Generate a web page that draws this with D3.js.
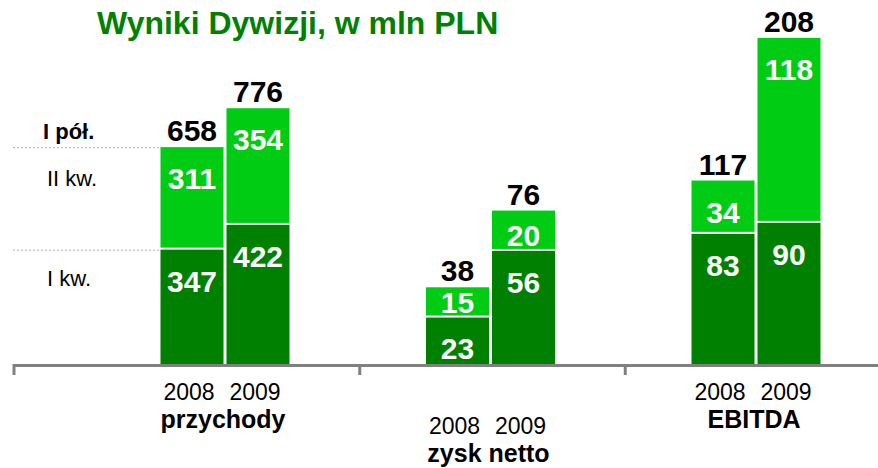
<!DOCTYPE html>
<html>
<head>
  <meta charset="utf-8">
  <title>Wyniki Dywizji</title>
  <script src="https://d3js.org/d3.v7.min.js"></script>
  <style>
    body, html {
      margin: 0;
      padding: 0;
      background: #fff;
    }
    svg {
      display: block;
      font-family: "Liberation Sans", Arial, Helvetica, sans-serif;
    }
    .title {
      font-size: 32px;
      font-weight: bold;
      fill: #008000;
    }
    .total {
      font-size: 30px;
      font-weight: bold;
      fill: #000;
    }
    .inner {
      font-size: 30px;
      font-weight: bold;
      fill: #fff;
    }
    .year {
      font-size: 23px;
      fill: #000;
    }
    .group-name {
      font-size: 25px;
      font-weight: bold;
      fill: #000;
    }
    .side {
      font-size: 22px;
      fill: #000;
    }
  </style>
</head>
<body>
  <div id="chart"></div>

  <script>
    const groups = ['przychody', 'zysk netto', 'EBITDA']
    const years = ['2008', '2009']
    // I kw. values per group, [2008, 2009]
    const q1 = [[347, 422], [23, 56], [83, 90]]
    // II kw. values per group, [2008, 2009]
    const q2 = [[311, 354], [15, 20], [34, 118]]
    // I pół. totals per group
    const totals = [[658, 776], [38, 76], [117, 208]]
    // each group uses its own vertical scale
    const groupMax = [980, 160, 206]
    const sideLabels = ['I pół.', 'II kw.', 'I kw.']

    const width = 878, height = 468
    const baseY = 364, topY = 41
    const darkGreen = '#008000', lightGreen = '#00cc14'

    const svg = d3.select('#chart').append('svg')
      .attr('width', width)
      .attr('height', height)

    const xGroup = d3.scalePoint()
      .domain(groups)
      .range([225, 756])

    const xYear = d3.scaleBand()
      .domain(years)
      .range([-64.5, 64.5])
      .paddingInner(0.045)

    const yScales = groupMax.map((m) => d3.scaleLinear().domain([0, m]).range([baseY, topY]))

    //Title
    svg.append('text')
      .attr('class', 'title')
      .attr('x', 97)
      .attr('y', 34)
      .text('Wyniki Dywizji, w mln PLN')

    //dotted guide lines from przychody 2008 bar
    const y0 = yScales[0]
    const guides = [totals[0][0], q1[0][0]]
    svg.selectAll('.guide')
      .data(guides)
      .enter()
      .append('line')
      .attr('class', 'guide')
      .attr('x1', 13)
      .attr('x2', xGroup(groups[0]) + xYear(years[0]))
      .attr('y1', (d) => y0(d) + 0.5)
      .attr('y2', (d) => y0(d) + 0.5)
      .attr('stroke', '#b0b0b0')
      .attr('stroke-width', 1)
      .attr('stroke-dasharray', '2,2')

    //side labels
    svg.append('text').attr('class', 'side').attr('x', 43).attr('y', 139)
      .style('font-weight', 'bold').text(sideLabels[0])
    svg.append('text').attr('class', 'side').attr('x', 47).attr('y', 186).text(sideLabels[1])
    svg.append('text').attr('class', 'side').attr('x', 47).attr('y', 286).text(sideLabels[2])

    //build bar rows
    const bars = []
    groups.forEach((g, gi) => {
      years.forEach((yr, yi) => {
        bars.push({ group: g, gi: gi, year: yr, q1: q1[gi][yi], q2: q2[gi][yi], total: totals[gi][yi] })
      })
    })

    const bw = xYear.bandwidth()
    const barG = svg.selectAll('.bar')
      .data(bars)
      .enter()
      .append('g')
      .attr('class', 'bar')
      .attr('transform', (d) => `translate(${xGroup(d.group) + xYear(d.year)},0)`)

    // I kw. segment
    barG.append('rect')
      .attr('x', 0)
      .attr('width', bw)
      .attr('y', (d) => yScales[d.gi](d.q1))
      .attr('height', (d) => baseY - yScales[d.gi](d.q1))
      .attr('fill', darkGreen)

    // II kw. segment
    barG.append('rect')
      .attr('x', 0)
      .attr('width', bw)
      .attr('y', (d) => yScales[d.gi](d.q1 + d.q2))
      .attr('height', (d) => yScales[d.gi](d.q1) - yScales[d.gi](d.q1 + d.q2) - 2)
      .attr('fill', lightGreen)

    // inner labels
    function innerY(segTop, segBottom) {
      return segTop + Math.min(42, segBottom - segTop - 5)
    }
    barG.append('text')
      .attr('class', 'inner')
      .attr('x', bw / 2)
      .attr('text-anchor', 'middle')
      .attr('y', (d) => innerY(yScales[d.gi](d.q1), baseY))
      .text((d) => d.q1)
    barG.append('text')
      .attr('class', 'inner')
      .attr('x', bw / 2)
      .attr('text-anchor', 'middle')
      .attr('y', (d) => innerY(yScales[d.gi](d.q1 + d.q2), yScales[d.gi](d.q1)))
      .text((d) => d.q2)

    // totals
    barG.append('text')
      .attr('class', 'total')
      .attr('x', bw / 2)
      .attr('text-anchor', 'middle')
      .attr('y', (d) => yScales[d.gi](d.total) - 6)
      .text((d) => d.total)

    //axis line with separators
    svg.append('line')
      .attr('x1', 13)
      .attr('x2', width)
      .attr('y1', baseY + 1.5)
      .attr('y2', baseY + 1.5)
      .attr('stroke', '#808080')
      .attr('stroke-width', 3)

    const seps = [14]
    for (let i = 1; i < groups.length; i++) {
      seps.push((xGroup(groups[i - 1]) + xGroup(groups[i])) / 2 + 2)
    }
    svg.selectAll('.sep')
      .data(seps)
      .enter()
      .append('line')
      .attr('class', 'sep')
      .attr('x1', (d) => d)
      .attr('x2', (d) => d)
      .attr('y1', baseY)
      .attr('y2', baseY + 11)
      .attr('stroke', '#808080')
      .attr('stroke-width', 3)

    //category labels, zysk netto sits one row lower
    const rowShift = [0, 34, 0]
    groups.forEach((g, gi) => {
      years.forEach((yr) => {
        svg.append('text')
          .attr('class', 'year')
          .attr('x', xGroup(g) + xYear(yr) + bw / 2 - 3)
          .attr('y', 400 + rowShift[gi])
          .attr('text-anchor', 'middle')
          .text(yr)
      })
      svg.append('text')
        .attr('class', 'group-name')
        .attr('x', xGroup(g) - 2)
        .attr('y', 428 + rowShift[gi])
        .attr('text-anchor', 'middle')
        .text(g)
    })
  </script>
</body>
</html>
